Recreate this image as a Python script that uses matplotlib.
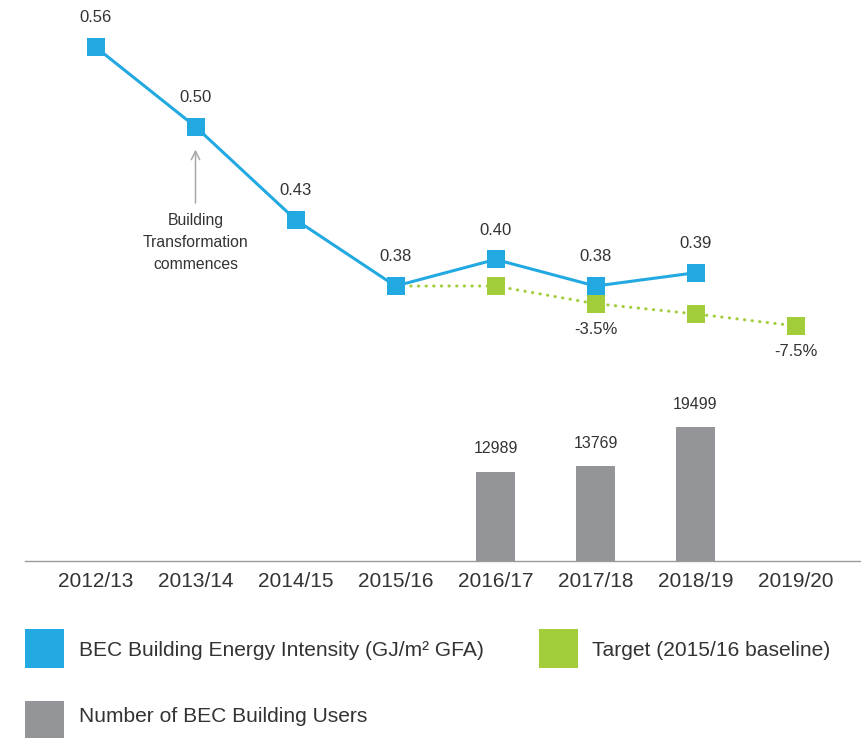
import matplotlib
matplotlib.use("Agg")
import matplotlib.pyplot as plt
from matplotlib.patches import Rectangle
from matplotlib.transforms import offset_copy
from matplotlib import font_manager

# ---- data ----
years = ["2012/13", "2013/14", "2014/15", "2015/16", "2016/17", "2017/18", "2018/19", "2019/20"]
energy_years = ["2012/13", "2013/14", "2014/15", "2015/16", "2016/17", "2017/18", "2018/19"]
energy = [0.56, 0.50, 0.43, 0.38, 0.40, 0.38, 0.39]
energy_labels = ["0.56", "0.50", "0.43", "0.38", "0.40", "0.38", "0.39"]
target_years = ["2015/16", "2016/17", "2017/18", "2018/19", "2019/20"]
target = [0.38, 0.38, 0.3667, 0.359, 0.350]
target_labels = {"2017/18": "-3.5%", "2019/20": "-7.5%"}
user_years = ["2016/17", "2017/18", "2018/19"]
users = [12989, 13769, 19499]
legend_labels = ["BEC Building Energy Intensity (GJ/m² GFA)", "Target (2015/16 baseline)",
                 "Number of BEC Building Users"]

BLUE = "#23a9e1"
GREEN = "#a2cc3a"
GRAY = "#939598"
TXT = "#333333"

names = {f.name for f in font_manager.fontManager.ttflist}
BASE = "Liberation Sans" if "Liberation Sans" in names else "DejaVu Sans"
plt.rcParams["font.family"] = [BASE, "DejaVu Sans"]

W, H = 862, 738
fig = plt.figure(figsize=(W / 100, H / 100), dpi=100)

xl = (-0.705, 7.665)
idx = {y: i for i, y in enumerate(years)}

# ---- top: line chart ----
ax = fig.add_axes([25 / W, 1 - 360 / H, 837 / W, 360 / H])
ax.set_xlim(*xl)
ax.set_ylim(0.3243, 0.5954)
ax.axis("off")

ex = [idx[y] for y in energy_years]
tx = [idx[y] for y in target_years]
ax.plot(tx, target, color=GREEN, lw=2.2, linestyle=(0, (0.1, 2.4)), dash_capstyle="round",
        marker="s", markersize=13, markeredgewidth=0, zorder=2)
ax.plot(ex, energy, color=BLUE, lw=2.2, marker="s", markersize=13, markeredgewidth=0, zorder=3)

for x, v, lab in zip(ex, energy, energy_labels):
    ax.annotate(lab, xy=(x, v), xytext=(0, 21), textcoords="offset points",
                ha="center", va="center", fontsize=12, color=TXT)
for y, v in zip(target_years, target):
    if y in target_labels:
        ax.annotate(target_labels[y], xy=(idx[y], v), xytext=(0, -18.5), textcoords="offset points",
                    ha="center", va="center", fontsize=12, color=TXT)

# annotation arrow at Building Transformation
t_head = offset_copy(ax.transData, fig=fig, x=0, y=-16.5, units="points")
t_tail = offset_copy(ax.transData, fig=fig, x=0, y=-55, units="points")
ax.annotate("", xy=(1, energy[1]), xycoords=t_head, xytext=(1, energy[1]), textcoords=t_tail,
            arrowprops=dict(arrowstyle="->,head_width=0.3,head_length=0.6", color="#a8a8a8", lw=1.1,
                            shrinkA=0, shrinkB=0))
ax.annotate("Building\nTransformation\ncommences", xy=(1, energy[1]), xytext=(0, -83.5),
            textcoords="offset points", ha="center", va="center", fontsize=11.3,
            color=TXT, linespacing=1.6)

# ---- bottom: bar chart ----
bx = fig.add_axes([25 / W, 1 - 561 / H, 837 / W, 181 / H])
bx.set_xlim(*xl)
bx.set_ylim(0, 26350)
ux = [idx[y] for y in user_years]
bx.bar(ux, users, width=0.39, color=GRAY)
for x, v in zip(ux, users):
    bx.annotate(str(v), xy=(x, v), xytext=(0, 16.5), textcoords="offset points",
                ha="center", va="center", fontsize=11.5, color=TXT)
for s in ["top", "left", "right"]:
    bx.spines[s].set_visible(False)
bx.spines["bottom"].set_color("#9a9a9a")
bx.spines["bottom"].set_linewidth(1.0)
bx.set_yticks([])
bx.set_xticks(range(len(years)))
bx.set_xticklabels(years, fontsize=15, color=TXT)
bx.tick_params(axis="x", length=0, pad=8)
bx.patch.set_visible(False)

# ---- legend (manual, fitted to reference widths) ----
items = [
    ((25, 629, 64, 668), BLUE, legend_labels[0], (79, 650), 408),
    ((539, 629, 578, 668), GREEN, legend_labels[1], (592, 650), 239),
    ((25, 701, 64, 740), GRAY, legend_labels[2], (79, 717), 289),
]
texts = []
for (x0, y0, x1, y1), color, text, (tx_, ty_), _ in items:
    fig.add_artist(Rectangle((x0 / W, 1 - y1 / H), (x1 - x0) / W, (y1 - y0) / H,
                             transform=fig.transFigure, color=color, lw=0))
    t = fig.text(tx_ / W, 1 - ty_ / H, text, fontsize=15, color=TXT, va="center", ha="left")
    texts.append(t)

fig.canvas.draw()
r = fig.canvas.get_renderer()
scales = [it[4] / t.get_window_extent(r).width for it, t in zip(items, texts)]
size = 15 * min(max(min(scales), 0.85), 1.1)
for t in texts:
    t.set_fontsize(size)

fig.savefig("out.png", dpi=100)
